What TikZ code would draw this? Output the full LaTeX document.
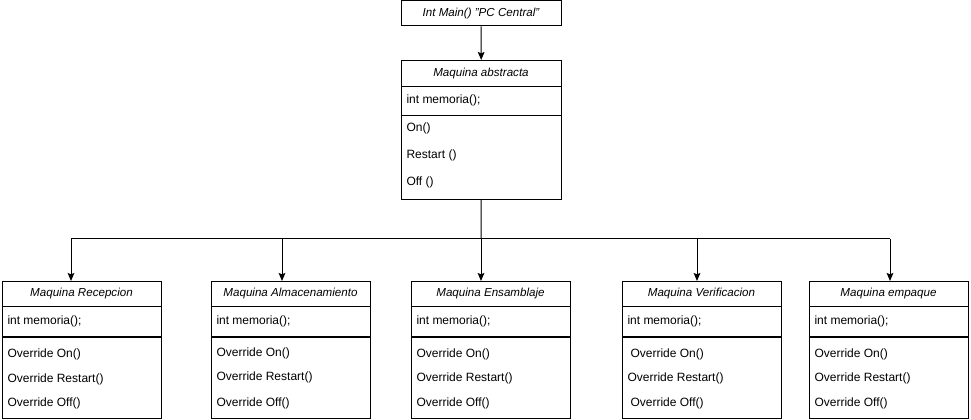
\documentclass[tikz,border=0pt]{standalone}
\usepackage{fontspec}
\setmainfont{Liberation Sans}
\usetikzlibrary{arrows.meta}

\tikzset{
  box/.style={draw, rectangle, anchor=north west, inner sep=0pt, minimum width=119.25pt},
  title/.style={font=\fontsize{8.7}{10}\selectfont\itshape, inner sep=0pt},
  item/.style={anchor=west, inner sep=0pt},
  arr/.style={-{Stealth[length=6pt,width=5pt,inset=1pt]}},
}

\begin{document}
\begin{tikzpicture}[x=0.75pt, y=-0.75pt, line width=0.75pt, font=\fontsize{9}{11}\selectfont]
\useasboundingbox (0,0) rectangle (971,420);

% main
\node[draw, minimum width=120pt, minimum height=18.75pt, title, inner sep=0pt] (pcmain) at (481,13.5) {Int Main() "PC Central"};

% abstract class
\node[box, minimum width=120pt, minimum height=103.9pt] (abst) at (401,60) {};
\node[title] (abstT) at (481,74) {Maquina abstracta};
\draw (401,87) -- (561,87);
\draw (401,116) -- (561,116);
\node[item] (abstA) at (406,100) {int memoria();};
\node[item] (abstOn) at (406,128) {On()};
\node[item] (abstRe) at (406,155) {Restart ()};
\node[item] (abstOff) at (406,182) {Off ()};

\draw[arr] (pcmain) -- (abst);

% children
\node[box, minimum height=102.75pt] (recep) at (2,281) {};
\node[title] (recepT) at (81.5,294) {Maquina Recepcion};
\draw (2,307) -- (161,307);
\draw (2,337) -- (161,337);
\node[item] (recepA) at (7,321) {int memoria();};
\node[item] (recepOn) at (7,354) {Override On()};
\node[item] (recepRe) at (7,379) {Override Restart()};
\node[item] (recepOff) at (7,403) {Override Off()};

\node[box, minimum height=102.75pt] (almac) at (211,281) {};
\node[title] (almacT) at (290.5,294) {Maquina Almacenamiento};
\draw (211,307) -- (370,307);
\draw (211,337) -- (370,337);
\node[item] (almacA) at (216,321) {int memoria();};
\node[item] (almacOn) at (216,353) {Override On()};
\node[item] (almacRe) at (216,377) {Override Restart()};
\node[item] (almacOff) at (216,403) {Override Off()};

\node[box, minimum height=102.75pt] (ensam) at (411,281) {};
\node[title] (ensamT) at (490.5,294) {Maquina Ensamblaje};
\draw (411,307) -- (570,307);
\draw (411,337) -- (570,337);
\node[item] (ensamA) at (416,321) {int memoria();};
\node[item] (ensamOn) at (416,354) {Override On()};
\node[item] (ensamRe) at (416,378) {Override Restart()};
\node[item] (ensamOff) at (416,403) {Override Off()};

\node[box, minimum height=102.75pt] (verif) at (622,281) {};
\node[title] (verifT) at (701.5,294) {Maquina Verificacion};
\draw (622,307) -- (781,307);
\draw (622,337) -- (781,337);
\node[item] (verifA) at (627,321) {int memoria();};
\node[item] (verifOn) at (630,354) {Override On()};
\node[item] (verifRe) at (627,378) {Override Restart()};
\node[item] (verifOff) at (630,403) {Override Off()};

\node[box, minimum height=102.75pt] (empaq) at (809,281) {};
\node[title] (empaqT) at (888.5,294) {Maquina empaque};
\draw (809,307) -- (968,307);
\draw (809,337) -- (968,337);
\node[item] (empaqA) at (814,321) {int memoria();};
\node[item] (empaqOn) at (814,354) {Override On()};
\node[item] (empaqRe) at (814,378) {Override Restart()};
\node[item] (empaqOff) at (814,403) {Override Off()};

% connectors
\coordinate (bus) at (481,239);
\coordinate (j1) at (71,239);
\coordinate (j2) at (282,239);
\coordinate (j4) at (697,239);
\coordinate (j5) at (890,239);
\draw (abst) -- (bus);
\draw (j1) -- (j5);
\draw[arr] (j1) -- (j1 |- recep.north);
\draw[arr] (j2) -- (j2 |- almac.north);
\draw[arr] (bus) -- (bus |- ensam.north);
\draw[arr] (j4) -- (j4 |- verif.north);
\draw[arr] (j5) -- (j5 |- empaq.north);
\end{tikzpicture}
\end{document}
